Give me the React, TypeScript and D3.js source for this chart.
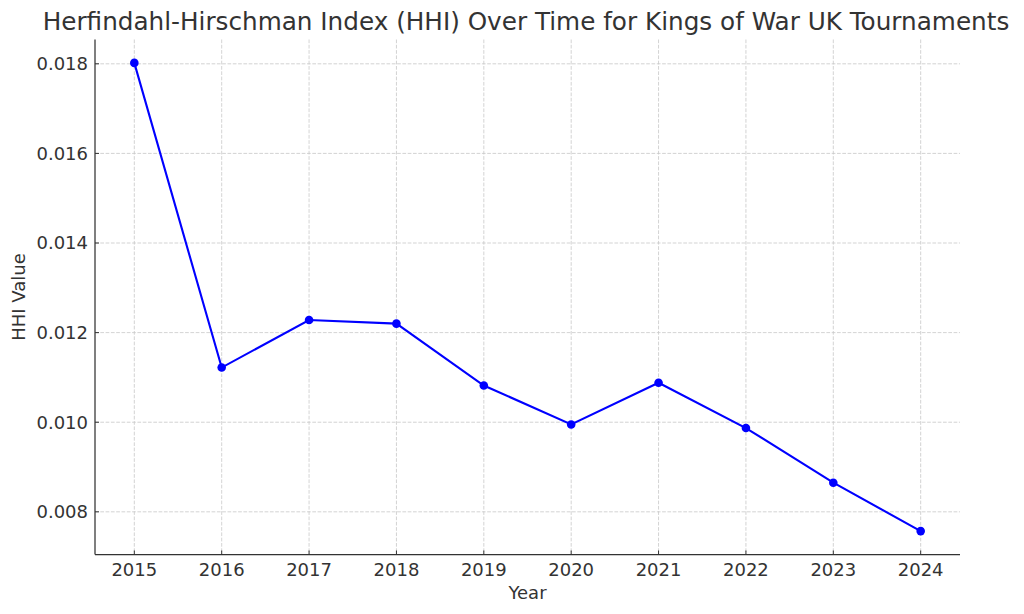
import React from "react";
import * as d3 from "d3";

const years: number[] = [2015, 2016, 2017, 2018, 2019, 2020, 2021, 2022, 2023, 2024];
const hhiValues: number[] = [0.01802, 0.01122, 0.01228, 0.0122, 0.01082, 0.00995, 0.01088, 0.00987, 0.00865, 0.00757];
const yTicks: number[] = [0.008, 0.01, 0.012, 0.014, 0.016, 0.018];
const titleText = "Herfindahl-Hirschman Index (HHI) Over Time for Kings of War UK Tournaments";
const xLabel = "Year";
const yLabel = "HHI Value";

const W = 1024;
const H = 614;
const M = { left: 95, right: 64, top: 39.5, bottom: 59.5 };

export default function App() {
  const innerL = M.left;
  const innerR = W - M.right;
  const innerT = M.top;
  const innerB = H - M.bottom;

  const xMin = d3.min(years)!;
  const xMax = d3.max(years)!;
  const xPad = (xMax - xMin) * 0.05;
  const x = d3.scaleLinear().domain([xMin - xPad, xMax + xPad]).range([innerL, innerR]);

  const yMin = d3.min(hhiValues)!;
  const yMax = d3.max(hhiValues)!;
  const yPad = (yMax - yMin) * 0.05;
  const y = d3.scaleLinear().domain([yMin - yPad, yMax + yPad]).range([innerB, innerT]);

  const pts = years.map((yr, i) => [yr, hhiValues[i]] as [number, number]);
  const line = d3.line<[number, number]>().x((d) => x(d[0])).y((d) => y(d[1]));

  const font = "'DejaVu Sans', sans-serif";
  const textColor = "#333333";
  const axisColor = "#333333";
  const fs = 18;

  return (
    <svg width={W} height={H} style={{ position: "absolute", left: 0, top: 0, background: "#fff" }} fontFamily={font}>
      <rect x={0} y={0} width={W} height={H} fill="#ffffff" />
      {/* grid */}
      {years.map((yr) => (
        <line key={"gx" + yr} x1={x(yr)} x2={x(yr)} y1={innerT} y2={innerB} stroke="#c8c8c8" strokeWidth={0.8} strokeDasharray="3.7,1.6" />
      ))}
      {yTicks.map((t) => (
        <line key={"gy" + t} x1={innerL} x2={innerR} y1={y(t)} y2={y(t)} stroke="#c8c8c8" strokeWidth={0.8} strokeDasharray="3.7,1.6" />
      ))}
      {/* spines */}
      <line x1={innerL} x2={innerL} y1={innerT} y2={innerB} stroke={axisColor} strokeWidth={1.25} />
      <line x1={innerL} x2={innerR} y1={innerB} y2={innerB} stroke={axisColor} strokeWidth={1.25} />
      {/* ticks */}
      {years.map((yr) => (
        <g key={"tx" + yr}>
          <line x1={x(yr)} x2={x(yr)} y1={innerB} y2={innerB - 4} stroke={axisColor} strokeWidth={1} />
          <text x={x(yr)} y={innerB + 21} textAnchor="middle" fontSize={fs} fill={textColor}>
            {String(yr)}
          </text>
        </g>
      ))}
      {yTicks.map((t) => (
        <g key={"ty" + t}>
          <line x1={innerL} x2={innerL + 4} y1={y(t)} y2={y(t)} stroke={axisColor} strokeWidth={1} />
          <text x={innerL - 7} y={y(t)} dy="0.36em" textAnchor="end" fontSize={fs} fill={textColor}>
            {d3.format(".3f")(t)}
          </text>
        </g>
      ))}
      {/* line */}
      <path d={line(pts) || ""} fill="none" stroke="#0000ff" strokeWidth={2.1} />
      {pts.map((p, i) => (
        <circle key={"pt" + i} cx={x(p[0])} cy={y(p[1])} r={4.3} fill="#0000ff" />
      ))}
      {/* labels */}
      <text x={(innerL + innerR) / 2} y={599} textAnchor="middle" fontSize={fs} fill={textColor}>
        {xLabel}
      </text>
      <text transform={`translate(25, ${(innerT + innerB) / 2}) rotate(-90)`} textAnchor="middle" fontSize={fs} fill={textColor}>
        {yLabel}
      </text>
      <text x={526} y={29.5} textAnchor="middle" fontSize={24.7} fill={textColor}>
        {titleText}
      </text>
    </svg>
  );
}
